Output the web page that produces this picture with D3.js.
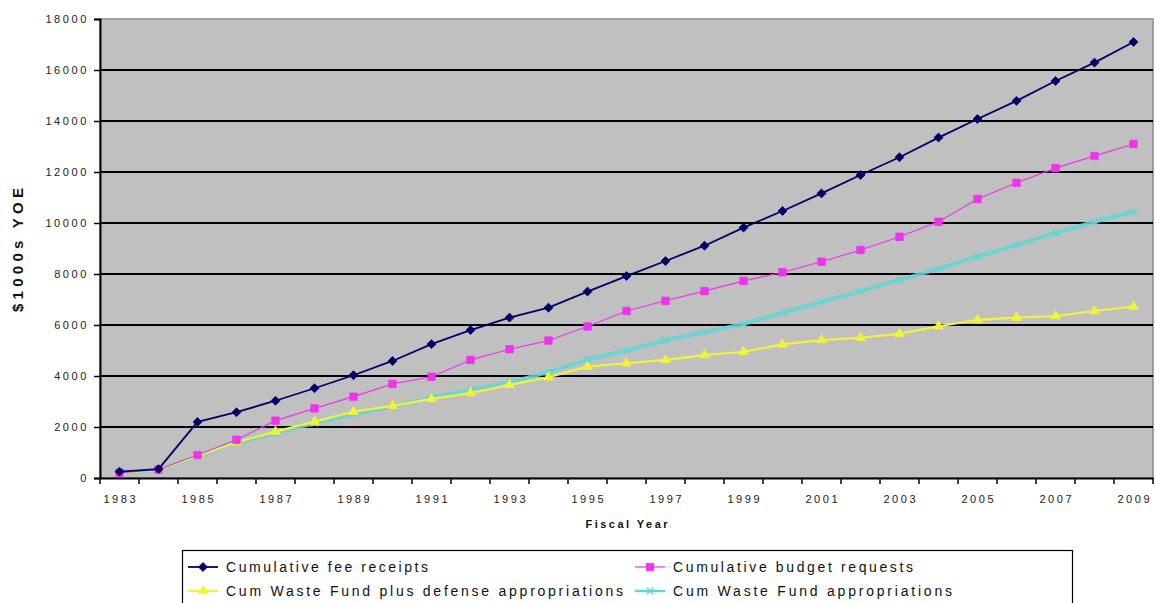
<!DOCTYPE html>
<html><head><meta charset="utf-8">
<script src="https://cdn.jsdelivr.net/npm/d3@7"></script>
<style>
html,body{margin:0;padding:0;background:#fff;}
svg{display:block;}
text{font-family:"Liberation Sans",Arial,sans-serif;}
</style></head>
<body><svg id="c" width="1155" height="603"></svg>
<script>
const years = d3.range(1983, 2010).map(String);
const yTicks = [0,2000,4000,6000,8000,10000,12000,14000,16000,18000];
const xLabels = ["1983","1985","1987","1989","1991","1993","1995","1997","1999","2001","2003","2005","2007","2009"];
const feeReceipts = [250,350,2200,2580,3030,3520,4030,4590,5250,5800,6290,6680,7310,7920,8510,9110,9820,10470,11160,11880,12580,13350,14080,14790,15570,16290,17100];
const budgetRequests = [200,330,900,1500,2250,2730,3190,3690,3970,4630,5050,5390,5940,6550,6950,7330,7730,8070,8480,8940,9460,10050,10940,11580,12150,12630,13100];
const wastePlusDefense = [200,320,850,1400,1820,2210,2600,2830,3100,3330,3650,3950,4370,4500,4630,4820,4950,5240,5410,5500,5650,5950,6200,6290,6350,6550,6720];
const wasteFund = [200,320,850,1400,1750,2150,2500,2800,3150,3450,3750,4150,4650,5000,5400,5720,6040,6480,6900,7330,7770,8200,8680,9140,9600,10050,10440];
const seriesNames = ["Cumulative fee receipts","Cumulative budget requests","Cum Waste Fund plus defense appropriations","Cum Waste Fund appropriations"];
const yTitle = "$1000s YOE";
const xTitle = "Fiscal Year";

const series = [
  {name:seriesNames[0], values:feeReceipts, color:"#000066", width:1.8, marker:"diamond", msize:40},
  {name:seriesNames[1], values:budgetRequests, color:"#ee33ee", width:1.2, marker:"square", msize:55},
  {name:seriesNames[2], values:wastePlusDefense, color:"#f2f23a", width:2.2, marker:"triangle", msize:40},
  {name:seriesNames[3], values:wasteFund, color:"#5fd6d6", width:4, marker:"cross", msize:30}
];
const squareDiamond = {draw(ctx,size){const r=Math.sqrt(size/2);ctx.moveTo(0,-r);ctx.lineTo(r,0);ctx.lineTo(0,r);ctx.lineTo(-r,0);ctx.closePath();}};
const symbolFor = {diamond:squareDiamond, square:d3.symbolSquare, triangle:d3.symbolTriangle, cross:d3.symbolTimes};

const svg = d3.select("#c");
const L=100, R=1153, T=19, B=478;
const x = d3.scaleBand().domain(years).range([L,R]).padding(0);
const y = d3.scaleLinear().domain([0,18000]).range([B,T]);

svg.append("rect").attr("x",L).attr("y",T).attr("width",R-L).attr("height",B-T).attr("fill","#c0c0c0").attr("stroke","#8a8a8a").attr("stroke-width",1.5);

svg.append("g").selectAll("line").data(yTicks.filter(v=>v>0&&v<18000)).join("line")
  .attr("x1",L).attr("x2",R).attr("y1",d=>y(d)).attr("y2",d=>y(d))
  .attr("stroke","#000").attr("stroke-width",2);

const ya = svg.append("g").attr("transform",`translate(${L},0)`)
  .call(d3.axisLeft(y).tickValues(yTicks).tickSize(6).tickPadding(8).tickFormat(d3.format("d")));
ya.select(".domain").attr("stroke","#000").attr("stroke-width",2);
ya.selectAll(".tick line").attr("stroke","#000").attr("stroke-width",1.5);
ya.selectAll(".tick text").attr("font-size",11).attr("fill","#222").attr("letter-spacing","2.6px").attr("dx","3");

const xa = svg.append("g").attr("transform",`translate(0,${B})`)
  .call(d3.axisBottom(x).tickValues(xLabels).tickSize(0).tickPadding(17));
xa.select(".domain").attr("stroke","#000").attr("stroke-width",2);
xa.selectAll(".tick text").attr("font-size",11).attr("fill","#222").attr("letter-spacing","2.6px").attr("dx","1.3");
const bounds = years.map(yv=>x(yv)).concat([x.range()[1]]);
svg.append("g").selectAll("line").data(bounds).join("line")
  .attr("x1",d=>d).attr("x2",d=>d).attr("y1",B).attr("y2",B+6)
  .attr("stroke","#000").attr("stroke-width",1.5);

svg.append("text").attr("x",(L+R)/2).attr("y",528).attr("text-anchor","middle")
  .attr("font-size",11).attr("font-weight","bold").attr("fill","#111")
  .attr("textLength",82).attr("lengthAdjust","spacing").text(xTitle);
svg.append("text").attr("transform","translate(23,250) rotate(-90)").attr("text-anchor","middle")
  .attr("font-size",15).attr("font-weight","bold").attr("fill","#111")
  .attr("textLength",124).attr("lengthAdjust","spacing").text(yTitle);

const line = d3.line().x((d,i)=>x(years[i])+x.bandwidth()/2).y(d=>y(d));
const lg = svg.append("g");
[3,2,1,0].forEach(k=>{
  const s = series[k];
  const g = lg.append("g");
  g.append("path").datum(s.values).attr("d",line).attr("fill","none")
    .attr("stroke",s.color).attr("stroke-width",s.width).attr("stroke-linejoin","round").attr("opacity",k==3?0.85:1);
  const sym = d3.symbol().type(symbolFor[s.marker]).size(s.msize);
  g.selectAll("path.m").data(s.values).join("path").attr("class","m")
    .attr("transform",(d,i)=>`translate(${x(years[i])+x.bandwidth()/2},${y(d)})`)
    .attr("d",sym())
    .attr("fill",s.marker==="cross"?"none":s.color)
    .attr("stroke",s.color).attr("stroke-width",s.marker==="cross"?1.5:0.8);
});

const leg = svg.append("g");
leg.append("rect").attr("x",182.5).attr("y",550.5).attr("width",890).attr("height",70)
  .attr("fill","#fff").attr("stroke","#000").attr("stroke-width",1.2);
const legPos = [
  {x:188, y:567, tx:226, tl:202},
  {x:635, y:567, tx:673, tl:240},
  {x:188, y:591, tx:226, tl:397},
  {x:635, y:591, tx:673, tl:279}
];
series.forEach((s,i)=>{
  const p = legPos[i];
  leg.append("line").attr("x1",p.x).attr("x2",p.x+30).attr("y1",p.y).attr("y2",p.y)
    .attr("stroke",s.color).attr("stroke-width",Math.min(s.width,2.5));
  leg.append("path").attr("transform",`translate(${p.x+15},${p.y})`)
    .attr("d",d3.symbol().type(symbolFor[s.marker]).size(s.msize)())
    .attr("fill",s.marker==="cross"?"none":s.color).attr("stroke",s.color).attr("stroke-width",s.marker==="cross"?1.5:0.8);
  leg.append("text").attr("x",p.tx).attr("y",p.y+5).attr("font-size",14).attr("fill","#111")
    .attr("textLength",p.tl).attr("lengthAdjust","spacing").text(s.name);
});
</script></body></html>
